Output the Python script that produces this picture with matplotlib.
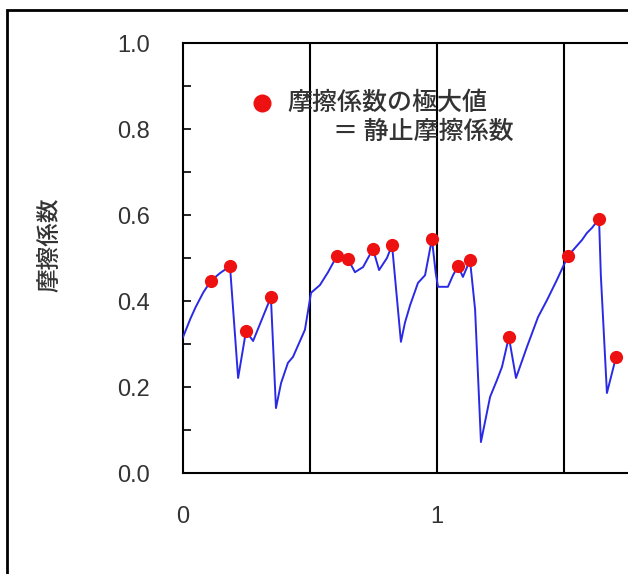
import matplotlib
matplotlib.use("Agg")
import matplotlib.pyplot as plt
from matplotlib.patches import Rectangle
from matplotlib.ticker import MultipleLocator

plt.rcParams['font.family'] = ['Liberation Sans', 'Noto Sans CJK JP', 'DejaVu Sans']

# friction coefficient trace
x_line = [0.0, 0.03, 0.05, 0.08, 0.11, 0.146, 0.185, 0.217, 0.248, 0.276, 0.346,
          0.366, 0.386, 0.413, 0.433, 0.48, 0.504, 0.539, 0.571, 0.606, 0.65,
          0.677, 0.709, 0.748, 0.772, 0.803, 0.823, 0.858, 0.874, 0.894, 0.925,
          0.953, 0.98, 0.995, 1.004, 1.043, 1.063, 1.083, 1.102, 1.13, 1.15,
          1.173, 1.209, 1.236, 1.256, 1.283, 1.311, 1.354, 1.398, 1.433, 1.472,
          1.516, 1.571, 1.59, 1.61, 1.638, 1.645, 1.669, 1.705]
y_line = [0.316, 0.36, 0.386, 0.42, 0.447, 0.465, 0.481, 0.221, 0.330, 0.307, 0.409,
          0.151, 0.209, 0.256, 0.27, 0.333, 0.419, 0.437, 0.467, 0.505, 0.497,
          0.467, 0.479, 0.521, 0.472, 0.50, 0.530, 0.305, 0.35, 0.39, 0.442,
          0.46, 0.544, 0.465, 0.433, 0.433, 0.46, 0.481, 0.456, 0.495, 0.38,
          0.072, 0.177, 0.216, 0.247, 0.316, 0.221, 0.293, 0.363, 0.402, 0.449,
          0.505, 0.542, 0.558, 0.57, 0.591, 0.46, 0.186, 0.27]

# local maxima = static friction coefficient
x_peak = [0.11, 0.185, 0.248, 0.346, 0.606, 0.65, 0.748, 0.823, 0.98, 1.083,
          1.13, 1.283, 1.516, 1.638, 1.705]
y_peak = [0.447, 0.481, 0.330, 0.409, 0.505, 0.497, 0.521, 0.530, 0.544, 0.481,
          0.495, 0.316, 0.505, 0.591, 0.27]

y_ticks = [0.0, 0.2, 0.4, 0.6, 0.8, 1.0]
x_ticks = [0, 1]
boundaries = [0.5, 1.0, 1.5]

fig = plt.figure(figsize=(6.28, 5.74), dpi=100)
ax = fig.add_axes([183 / 628, 101 / 574, 508 / 628, 430 / 574])

for b in boundaries:
    ax.axvline(b, color='black', lw=1.5, zorder=2)

ax.plot(x_line, y_line, color='#2a2ae6', lw=1.4, zorder=3)
ax.plot(x_peak, y_peak, 'o', color='#ee1111', ms=9.5, mec='none', zorder=4,
        clip_on=False)

# legend-like annotation
ax.plot([0.311], [0.86], 'o', color='#ee1111', ms=13, mec='none', zorder=4)
ax.text(0.41, 0.86, '摩擦係数の極大値', fontsize=18, color='#333333',
        family=['Noto Sans CJK JP'], weight='medium', va='center', ha='left')
ax.text(0.59, 0.793, '＝ 静止摩擦係数', fontsize=18, color='#333333',
        family=['Noto Sans CJK JP'], weight='medium', va='center', ha='left')

ax.set_xlim(0, 2)
ax.set_ylim(0, 1)
ax.set_yticks(y_ticks)
ax.set_yticklabels([f'{v:.1f}' for v in y_ticks])
ax.yaxis.set_minor_locator(MultipleLocator(0.1))
ax.set_xticks(x_ticks)
ax.tick_params(axis='y', which='both', direction='in', length=6, width=1.2,
               pad=24, labelsize=17, labelcolor='#333333')
ax.tick_params(axis='x', length=0, pad=24, labelsize=17, labelcolor='#333333')

ax.set_ylabel('摩擦係数', fontsize=17, color='#333333',
              family=['Noto Sans CJK JP'], weight='medium')
ax.yaxis.set_label_coords(-0.24, 0.53)

for s in ['left', 'top', 'bottom']:
    ax.spines[s].set_linewidth(1.5)
ax.spines['right'].set_visible(False)

# outer frame of the original figure
top = 1 - 10 / 574
fig.patches.append(Rectangle((7 / 628, -0.2), 1.2, top + 0.2,
                             transform=fig.transFigure, fill=False,
                             edgecolor='black', lw=2))

fig.savefig('out.png', dpi=100)
